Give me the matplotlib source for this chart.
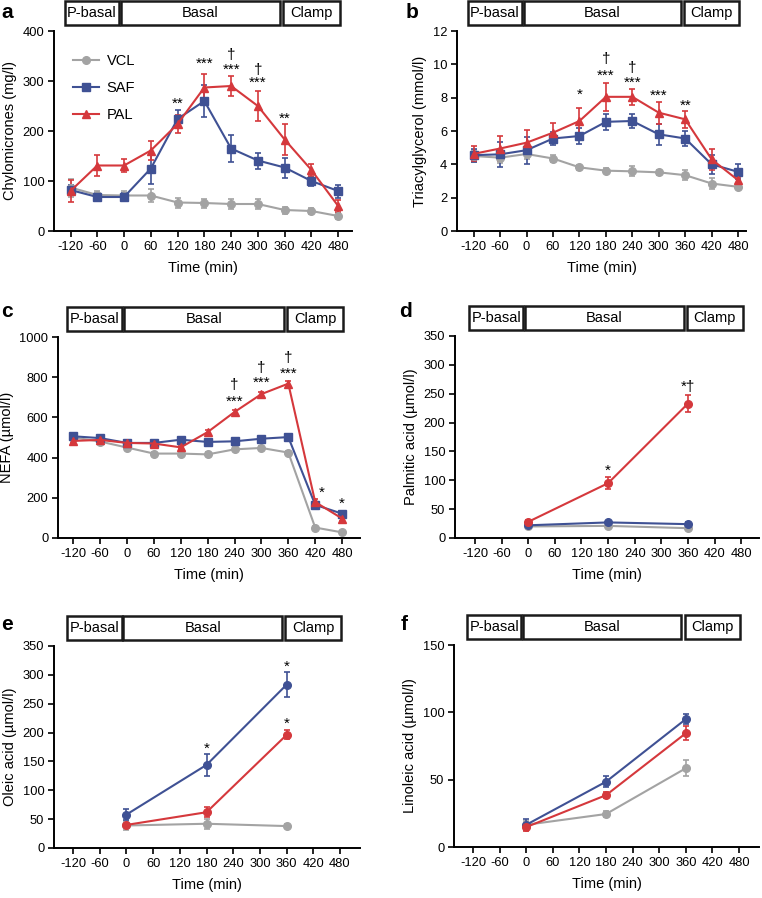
import matplotlib
matplotlib.use('Agg')
import matplotlib.pyplot as plt
import matplotlib.patches as mpatches
import matplotlib.transforms as mtransforms
import numpy as np

plt.rcParams['font.family'] = ['Liberation Sans', 'DejaVu Sans']

# ---- data ----
times = [-120, -60, 0, 60, 120, 180, 240, 300, 360, 420, 480]
times_fa = [0, 180, 360]
groups = ["VCL", "SAF", "PAL"]

# a  chylomicrones (mg/l)
chylo_vcl = [87, 72, 71, 71, 57, 56, 54, 54, 42, 40, 30]
chylo_vcl_err = [18, 9, 9, 13, 10, 9, 10, 10, 7, 6, 6]
chylo_saf = [82, 68, 68, 125, 224, 260, 165, 141, 127, 100, 80]
chylo_saf_err = [10, 8, 8, 30, 18, 32, 27, 16, 20, 9, 13]
chylo_pal = [80, 131, 131, 161, 214, 287, 290, 250, 183, 122, 50]
chylo_pal_err = [22, 21, 13, 19, 18, 27, 20, 30, 31, 12, 12]
chylo_marks = [(120, 255, "**"), (180, 335, "***"), (240, 322, "***"), (240, 352, "\u2020"),
               (300, 297, "***"), (300, 322, "\u2020"), (360, 225, "**")]

# b  triacylglycerol (mmol/l)
tag_vcl = [4.5, 4.4, 4.62, 4.35, 3.82, 3.62, 3.58, 3.52, 3.35, 2.85, 2.65]
tag_vcl_err = [0.35, 0.3, 0.3, 0.2, 0.15, 0.15, 0.3, 0.15, 0.3, 0.35, 0.15]
tag_saf = [4.55, 4.6, 4.85, 5.55, 5.7, 6.55, 6.6, 5.8, 5.55, 4.0, 3.55]
tag_saf_err = [0.4, 0.75, 0.8, 0.4, 0.5, 0.5, 0.4, 0.65, 0.45, 0.55, 0.45]
tag_pal = [4.63, 4.95, 5.3, 5.9, 6.6, 8.05, 8.05, 7.1, 6.7, 4.3, 3.05]
tag_pal_err = [0.45, 0.75, 0.75, 0.6, 0.8, 0.85, 0.5, 0.65, 0.5, 0.65, 0.2]
tag_marks = [(120, 8.2, "*"), (180, 9.3, "***"), (180, 10.3, "\u2020"), (240, 8.9, "***"),
             (240, 9.8, "\u2020"), (300, 8.1, "***"), (360, 7.5, "**")]

# c  NEFA (umol/l)
nefa_vcl = [500, 480, 450, 420, 420, 416, 441, 448, 425, 52, 28]
nefa_vcl_err = [10, 10, 10, 8, 8, 10, 10, 10, 8, 6, 5]
nefa_saf = [506, 497, 473, 473, 489, 478, 481, 494, 502, 165, 121]
nefa_saf_err = [10, 10, 10, 8, 8, 8, 8, 10, 8, 12, 10]
nefa_pal = [483, 488, 473, 470, 451, 527, 627, 716, 768, 179, 97]
nefa_pal_err = [12, 10, 8, 8, 8, 10, 10, 10, 15, 14, 12]
nefa_marks = [(240, 680, "***"), (240, 760, "\u2020"), (300, 770, "***"), (300, 848, "\u2020"),
              (360, 818, "***"), (360, 895, "\u2020"), (435, 225, "*"), (480, 172, "*")]

# d  palmitic acid (umol/l)
palm_vcl = [20, 21, 17]
palm_vcl_err = [3, 3, 3]
palm_saf = [22, 27, 24]
palm_saf_err = [3, 3, 3]
palm_pal = [28, 95, 233]
palm_pal_err = [3, 10, 14]
palm_marks = [(180, 117, "*"), (360, 262, "*\u2020")]

# e  oleic acid (umol/l)
olei_vcl = [39, 42, 38]
olei_vcl_err = [8, 9, 4]
olei_saf = [58, 144, 283]
olei_saf_err = [10, 19, 22]
olei_pal = [40, 62, 196]
olei_pal_err = [4, 9, 8]
olei_marks = [(180, 172, "*"), (360, 314, "*"), (360, 216, "*")]

# f  linoleic acid (umol/l)
lino_vcl = [16.5, 24.5, 58.5]
lino_vcl_err = [3, 2, 6]
lino_saf = [16.5, 48.5, 95]
lino_saf_err = [4, 4, 4]
lino_pal = [14.8, 38.5, 84.5]
lino_pal_err = [3, 2, 5]

xticks = [-120, -60, 0, 60, 120, 180, 240, 300, 360, 420, 480]
phases = [("P-basal", -133, -11), ("Basal", -7, 350), ("Clamp", 357, 483)]

GRAY = "#a3a3a3"
BLUE = "#3f5194"
RED = "#d5383c"
colors = [GRAY, BLUE, RED]

W, H = 762, 898
fig = plt.figure(figsize=(W / 100, H / 100), dpi=100)


def px_axes(left, right, top, bottom):
    return fig.add_axes([left / W, 1 - bottom / H, (right - left) / W, (bottom - top) / H])


def panel(box, xlim, ylim, yticks, ylabel, series, markers, ms, marks, letter, letter_xy):
    ax = px_axes(*box)
    for (y, e), c, m in zip(series, colors, markers):
        t = times if len(y) == len(times) else times_fa
        ax.errorbar(t, y, yerr=e, color=c, marker=m, ms=ms, lw=1.5, elinewidth=1.2,
                    capsize=2.5, capthick=1.2, mec=c, zorder=3)
    ax.set_xlim(*xlim)
    ax.set_ylim(*ylim)
    ax.set_xticks(xticks)
    ax.set_xticklabels([str(v) for v in xticks])
    ax.set_yticks(yticks)
    ax.spines["top"].set_visible(False)
    ax.spines["right"].set_visible(False)
    for s in ("left", "bottom"):
        ax.spines[s].set_linewidth(1.4)
    ax.tick_params(direction="out", length=4, width=1.2, labelsize=9.3, pad=3)
    ax.set_xlabel("Time (min)", fontsize=10.5, labelpad=6)
    ax.set_ylabel(ylabel, fontsize=10.5, labelpad=4)
    for x, yv, s in marks:
        ax.text(x, yv, s, ha="center", va="center", fontsize=11)
    # phase boxes above axes
    tr = mtransforms.blended_transform_factory(ax.transData, ax.transAxes)
    hbox = 24 / (box[3] - box[2])
    y0 = 1 + 6 / (box[3] - box[2])
    for name, a, b in phases:
        r = mpatches.Rectangle((a, y0), b - a, hbox, transform=tr, fill=False,
                               ec="#1a1a1a", lw=1.8, clip_on=False)
        ax.add_patch(r)
        ax.text((a + b) / 2, y0 + hbox / 2, name, transform=tr, ha="center",
                va="center", fontsize=10.5)
    fig.text(letter_xy[0] / W, 1 - letter_xy[1] / H, letter, fontsize=15,
             fontweight="bold", ha="left", va="center")
    return ax


mk3 = ["o", "s", "^"]
mkc = ["o", "o", "o"]

ax_a = panel((54, 352, 31, 231), (-157, 511), (0, 400), [0, 100, 200, 300, 400],
             "Chylomicrones (mg/l)",
             [(chylo_vcl, chylo_vcl_err), (chylo_saf, chylo_saf_err), (chylo_pal, chylo_pal_err)],
             mk3, 5.5, chylo_marks, "a", (1, 13))
handles = [plt.Line2D([], [], color=c, marker=m, ms=5.5, lw=1.5) for c, m in zip(colors, mk3)]
ax_a.legend(handles, groups, loc="upper left", bbox_to_anchor=(0.02, 0.95), frameon=False,
            fontsize=10.5, handlelength=1.8, labelspacing=0.9, handletextpad=0.5)

panel((457, 746, 31, 231), (-158, 498), (0, 12), [0, 2, 4, 6, 8, 10, 12],
      "Triacylglycerol (mmol/l)",
      [(tag_vcl, tag_vcl_err), (tag_saf, tag_saf_err), (tag_pal, tag_pal_err)],
      mk3, 5.5, tag_marks, "b", (406, 13))

panel((58, 360, 337, 538), (-154, 520), (0, 1000), [0, 200, 400, 600, 800, 1000],
      "NEFA (\u00b5mol/l)",
      [(nefa_vcl, nefa_vcl_err), (nefa_saf, nefa_saf_err), (nefa_pal, nefa_pal_err)],
      mk3, 5.5, nefa_marks, "c", (1, 311))

panel((455, 759, 336, 538), (-165, 520), (0, 350), [0, 50, 100, 150, 200, 250, 300, 350],
      "Palmitic acid (\u00b5mol/l)",
      [(palm_vcl, palm_vcl_err), (palm_saf, palm_saf_err), (palm_pal, palm_pal_err)],
      mkc, 5.5, palm_marks, "d", (399, 311))

panel((54, 360, 646, 848), (-163, 525), (0, 350), [0, 50, 100, 150, 200, 250, 300, 350],
      "Oleic acid (\u00b5mol/l)",
      [(olei_vcl, olei_vcl_err), (olei_saf, olei_saf_err), (olei_pal, olei_pal_err)],
      mkc, 5.5, olei_marks, "e", (1, 624))

panel((454, 759, 645, 847), (-163, 525), (0, 150), [0, 50, 100, 150],
      "Linoleic acid (\u00b5mol/l)",
      [(lino_vcl, lino_vcl_err), (lino_saf, lino_saf_err), (lino_pal, lino_pal_err)],
      mkc, 5.5, [], "f", (401, 624))

fig.savefig("out.png", dpi=100, facecolor="white")
